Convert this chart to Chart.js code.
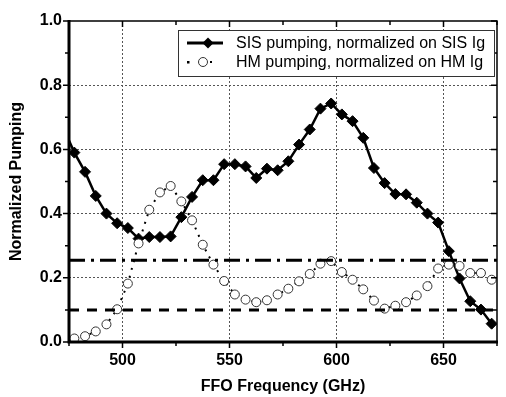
<!DOCTYPE html>
<html>
<head>
<meta charset="utf-8">
<script src="https://cdn.jsdelivr.net/npm/chart.js@4"></script>
<style>
  body { margin: 0; background: #fff; }
  canvas { display: block; }
</style>
</head>
<body>
<canvas id="chart" width="506" height="397"></canvas>
<script>
// frequencies (GHz) and normalized pumping
const sisFreq = [472.5, 477.5, 482.5, 487.5, 492.5, 497.5, 502.5, 507.5, 512.5, 517.5, 522.5,
  527.5, 532.5, 537.5, 542.5, 547.5, 552.5, 557.5, 562.5, 567.5, 572.5,
  577.5, 582.5, 587.5, 592.5, 597.5, 602.5, 607.5, 612.5, 617.5, 622.5,
  627.5, 632.5, 637.5, 642.5, 647.5, 652.5, 657.5, 662.5, 667.5, 672.5];
const sisValues = [0.665, 0.590, 0.530, 0.455, 0.400, 0.370, 0.355, 0.322, 0.327, 0.327, 0.329,
  0.389, 0.452, 0.504, 0.504, 0.554, 0.554, 0.547, 0.511, 0.540, 0.535,
  0.563, 0.615, 0.662, 0.727, 0.743, 0.709, 0.688, 0.636, 0.542, 0.495,
  0.461, 0.460, 0.434, 0.400, 0.372, 0.283, 0.198, 0.127, 0.101, 0.057];

const hmFreq = [477.5, 482.5, 487.5, 492.5, 497.5, 502.5, 507.5, 512.5, 517.5, 522.5,
  527.5, 532.5, 537.5, 542.5, 547.5, 552.5, 557.5, 562.5, 567.5, 572.5,
  577.5, 582.5, 587.5, 592.5, 597.5, 602.5, 607.5, 612.5, 617.5, 622.5,
  627.5, 632.5, 637.5, 642.5, 647.5, 652.5, 657.5, 662.5, 667.5, 672.5];
const hmValues = [0.011, 0.018, 0.033, 0.055, 0.102, 0.182, 0.307, 0.412, 0.466, 0.486,
  0.438, 0.379, 0.303, 0.241, 0.190, 0.148, 0.132, 0.124, 0.130, 0.148,
  0.166, 0.189, 0.212, 0.244, 0.252, 0.218, 0.194, 0.164, 0.129, 0.104,
  0.113, 0.124, 0.145, 0.174, 0.229, 0.241, 0.237, 0.215, 0.215, 0.194];

// horizontal reference levels
const dashDotLevel = 0.255;
const dashLevel = 0.10;

const xRange = [475, 675];
const xLabelTicks = [500, 550, 600, 650];
const yLabelTicks = [0, 0.2, 0.4, 0.6, 0.8, 1.0];

const legendLabels = ["SIS pumping, normalized on SIS Ig", "HM pumping, normalized on HM Ig"];

const toPoints = (xs, ys) => xs.map((x, i) => ({ x: x, y: ys[i] }));
const FONT = '"Liberation Sans", Arial, sans-serif';

// frame, tick marks and legend box
const framePlugin = {
  id: "frame",
  afterDatasetsDraw(chart) {
    const { ctx, chartArea: a, scales: { x, y } } = chart;
    ctx.save();
    ctx.strokeStyle = "#000";
    ctx.lineCap = "butt";

    ctx.lineWidth = 1.5;
    ctx.beginPath();
    ctx.moveTo(a.left, a.top);
    ctx.lineTo(a.right, a.top);
    ctx.lineTo(a.right, a.bottom);
    ctx.stroke();

    ctx.lineWidth = 3;
    ctx.beginPath();
    ctx.moveTo(a.left, a.top - 1);
    ctx.lineTo(a.left, a.bottom);
    ctx.lineTo(a.right + 1, a.bottom);
    ctx.stroke();

    ctx.lineWidth = 1.5;
    ctx.beginPath();
    x.ticks.forEach(t => {
      const px = x.getPixelForValue(t.value);
      const len = t.value % 50 === 0 ? 6 : 4;
      ctx.moveTo(px, a.bottom); ctx.lineTo(px, a.bottom + len);
      ctx.moveTo(px, a.top); ctx.lineTo(px, a.top + len);
    });
    y.ticks.forEach(t => {
      const py = y.getPixelForValue(t.value);
      const len = Math.round(t.value * 10) % 2 === 0 ? 6 : 4;
      ctx.moveTo(a.left, py); ctx.lineTo(a.left - len, py);
      ctx.moveTo(a.right, py); ctx.lineTo(a.right - len, py);
    });
    ctx.stroke();

    // legend
    const bx = 178, by = 30, bw = 316, bh = 46;
    ctx.fillStyle = "#fff";
    ctx.fillRect(bx, by, bw, bh);
    ctx.lineWidth = 1;
    ctx.strokeStyle = "#333";
    ctx.strokeRect(bx + 0.5, by + 0.5, bw, bh);

    const r1 = 43, r2 = 62;
    ctx.strokeStyle = "#000";
    ctx.lineWidth = 3;
    ctx.beginPath();
    ctx.moveTo(187, r1); ctx.lineTo(223, r1);
    ctx.stroke();
    ctx.fillStyle = "#000";
    ctx.beginPath();
    ctx.moveTo(208, r1 - 5.5); ctx.lineTo(213.5, r1); ctx.lineTo(208, r1 + 5.5); ctx.lineTo(202.5, r1);
    ctx.closePath();
    ctx.fill();

    ctx.fillRect(187, r2 - 1, 2.5, 2.5);
    ctx.fillRect(210, r2 - 1, 2, 2);
    ctx.lineWidth = 1;
    ctx.strokeStyle = "#333";
    ctx.beginPath();
    ctx.arc(203, r2, 4.5, 0, Math.PI * 2);
    ctx.stroke();

    ctx.fillStyle = "#000";
    ctx.font = "16px " + FONT;
    ctx.textBaseline = "middle";
    ctx.textAlign = "left";
    ctx.fillText(legendLabels[0], 236, r1 + 1);
    ctx.fillText(legendLabels[1], 236, r2 + 1);
    ctx.restore();
  }
};

const ctx = document.getElementById("chart").getContext("2d");
new Chart(ctx, {
  type: "line",
  data: {
    datasets: [
      {
        label: "dash-dot level",
        data: toPoints(xRange, [dashDotLevel, dashDotLevel]),
        borderColor: "#000",
        borderWidth: 3,
        borderDash: [16, 6, 3, 6],
        pointRadius: 0
      },
      {
        label: "dash level",
        data: toPoints(xRange, [dashLevel, dashLevel]),
        borderColor: "#000",
        borderWidth: 3,
        borderDash: [10, 8],
        pointRadius: 0
      },
      {
        label: legendLabels[1],
        data: toPoints(hmFreq, hmValues),
        borderColor: "#000",
        borderWidth: 2,
        borderDash: [2, 6],
        pointStyle: "circle",
        pointRadius: 4.5,
        pointBorderWidth: 1,
        pointBorderColor: "#333",
        pointBackgroundColor: "#fff"
      },
      {
        label: legendLabels[0],
        data: toPoints(sisFreq, sisValues),
        borderColor: "#000",
        borderWidth: 2.5,
        pointStyle: "rectRot",
        pointRadius: 5.5,
        pointBorderWidth: 1,
        pointBorderColor: "#000",
        pointBackgroundColor: "#000"
      }
    ]
  },
  options: {
    responsive: false,
    animation: false,
    layout: { padding: { top: 21, right: 2, left: 0, bottom: 0 } },
    plugins: {
      legend: { display: false },
      tooltip: { enabled: false }
    },
    scales: {
      x: {
        type: "linear",
        min: xRange[0],
        max: xRange[1],
        afterFit: s => { s.height = 55; },
        ticks: {
          stepSize: 25,
          autoSkip: false,
          maxRotation: 0,
          padding: 9,
          color: "#000",
          font: { family: FONT, size: 16, weight: "bold" },
          callback: v => (xLabelTicks.includes(v) ? String(v) : "")
        },
        grid: {
          drawTicks: false,
          lineWidth: 1,
          color: c => (xLabelTicks.includes(c.tick.value) ? "#555" : "rgba(0,0,0,0)")
        },
        border: { display: false, dash: [2, 2] },
        title: {
          display: true,
          text: "FFO Frequency (GHz)",
          color: "#000",
          font: { family: FONT, size: 16, weight: "bold" },
          padding: { top: 0, bottom: 1 }
        }
      },
      y: {
        min: 0,
        max: 1,
        afterFit: s => { s.width = 69; },
        ticks: {
          stepSize: 0.1,
          autoSkip: false,
          padding: 7,
          color: "#000",
          font: { family: FONT, size: 16, weight: "bold" },
          callback: v => {
            const r = Math.round(v * 10);
            return r % 2 === 0 ? (r / 10).toFixed(1) : "";
          }
        },
        grid: {
          drawTicks: false,
          lineWidth: 1,
          color: c => {
            const r = Math.round(c.tick.value * 10);
            return (r % 2 === 0 && r > 0 && r < 10) ? "#555" : "rgba(0,0,0,0)";
          }
        },
        border: { display: false, dash: [2, 2] },
        title: {
          display: true,
          text: "Normalized Pumping",
          color: "#000",
          font: { family: FONT, size: 16, weight: "bold" },
          padding: { top: 7, bottom: 0 }
        }
      }
    }
  },
  plugins: [framePlugin]
});
</script>
</body>
</html>
